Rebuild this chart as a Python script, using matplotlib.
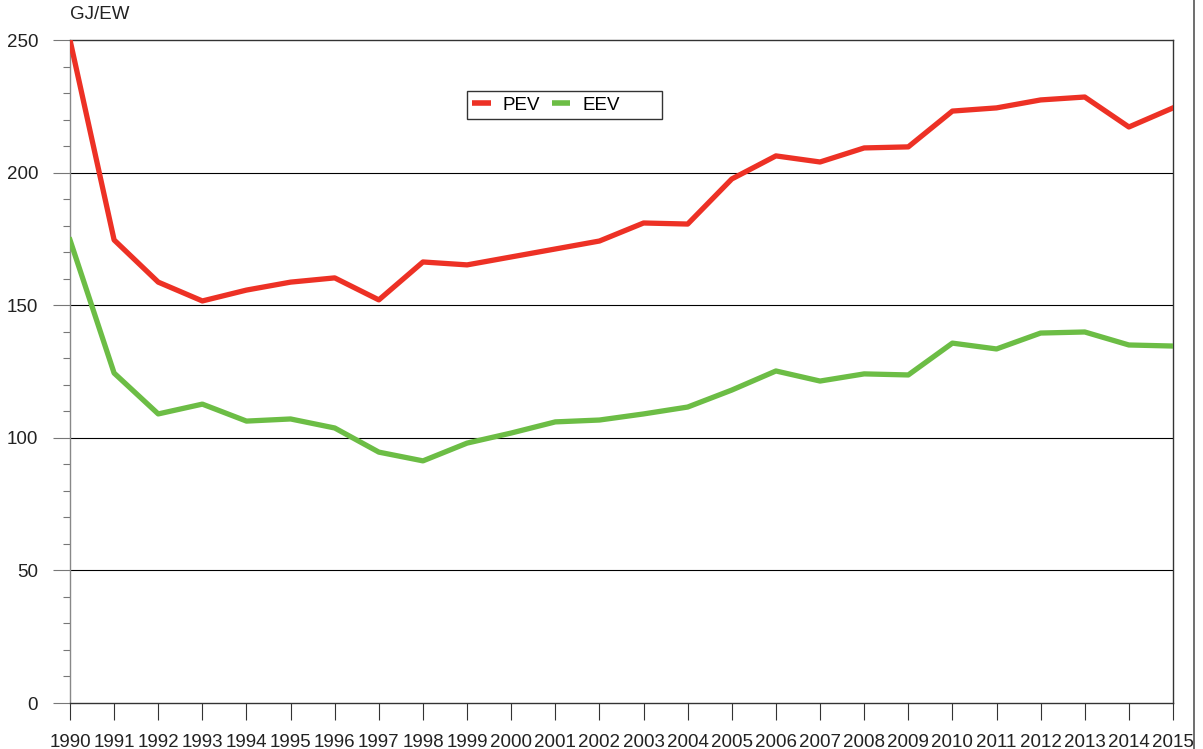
import matplotlib.pyplot as plt
from matplotlib.lines import Line2D
from matplotlib.patches import Rectangle
from matplotlib.ticker import MultipleLocator

plt.rcParams["font.family"] = ["Liberation Sans", "DejaVu Sans"]

# values (GJ per inhabitant)
years = list(range(1990, 2016))
pev = [250.0, 174.6, 158.7, 151.6, 155.7, 158.7, 160.3, 152.0, 166.3, 165.2,
       168.2, 171.2, 174.2, 181.0, 180.6, 197.6, 206.3, 204.0, 209.3, 209.7,
       223.2, 224.4, 227.4, 228.5, 217.2, 224.4]
eev = [174.6, 124.4, 109.0, 112.7, 106.3, 107.1, 103.7, 94.6, 91.3, 98.0,
       101.8, 106.0, 106.7, 109.0, 111.6, 118.0, 125.2, 121.4, 124.1, 123.7,
       135.7, 133.5, 139.5, 139.9, 135.0, 134.6]
series_names = ["PEV", "EEV"]
unit_label = "GJ/EW"

W, H = 1203, 749
fig = plt.figure(figsize=(W / 100, H / 100), dpi=100)
ax = fig.add_axes([70 / W, 1 - 703 / H, 1103 / W, 663 / H])


def px_to_ax(px, py):
    # page pixel position -> axes fraction
    return (px - 70) / 1103, (703 - py) / 663


# horizontal grid lines behind the data
for yv in [50, 100, 150, 200]:
    ax.axhline(yv, color="black", lw=0.8, zorder=1)

ax.plot(years, pev, color="#ED3125", lw=3.8, label=series_names[0], zorder=3)
ax.plot(years, eev, color="#6CBD45", lw=3.8, label=series_names[1], zorder=3)

ax.set_xlim(1990, 2015)
ax.set_ylim(0, 250)
ax.set_xticks(years)
ax.set_xticklabels([str(y) for y in years])
ax.yaxis.set_major_locator(MultipleLocator(50))
ax.yaxis.set_minor_locator(MultipleLocator(10))

ax.tick_params(axis="x", direction="out", length=12, width=0.8, pad=10,
               labelsize=13.5, colors="#333333", labelcolor="#222222")
ax.tick_params(axis="y", which="major", direction="out", length=12, width=0.8,
               pad=11, labelsize=13.5, colors="#777777", labelcolor="#222222")
ax.tick_params(axis="y", which="minor", direction="out", length=5, width=0.8,
               colors="#777777")

for side in ["top", "right", "bottom"]:
    ax.spines[side].set_color("#333333")
    ax.spines[side].set_linewidth(1.0)
ax.spines["left"].set_color("#888888")
ax.spines["left"].set_linewidth(1.0)

# unit label above the y axis
ax.text(0, 1.025, unit_label, transform=ax.transAxes, ha="left", va="bottom",
        fontsize=13.5, color="#222222")

# legend without its own frame, the box is drawn separately (wider than content)
leg = ax.legend(loc="center left", bbox_to_anchor=px_to_ax(472, 105),
                ncol=2, fontsize=13.5, frameon=False,
                handlelength=1.0, handletextpad=0.65, columnspacing=0.6,
                borderpad=0.0, borderaxespad=0)
for h in leg.get_lines():
    h.set_linewidth(4)
    h.set_solid_capstyle("butt")

x0, y0 = px_to_ax(467, 119)
x1, y1 = px_to_ax(662, 91)
ax.add_patch(Rectangle((x0, y0), x1 - x0, y1 - y0, transform=ax.transAxes,
                       facecolor="white", edgecolor="#333333", lw=1.0, zorder=4))
leg.set_zorder(5)

# outer frame line at the right edge of the page
fig.add_artist(Line2D([1194 / W, 1194 / W], [0, 1], transform=fig.transFigure,
                      color="#555555", lw=1.2))

fig.savefig("out.png", dpi=100)
